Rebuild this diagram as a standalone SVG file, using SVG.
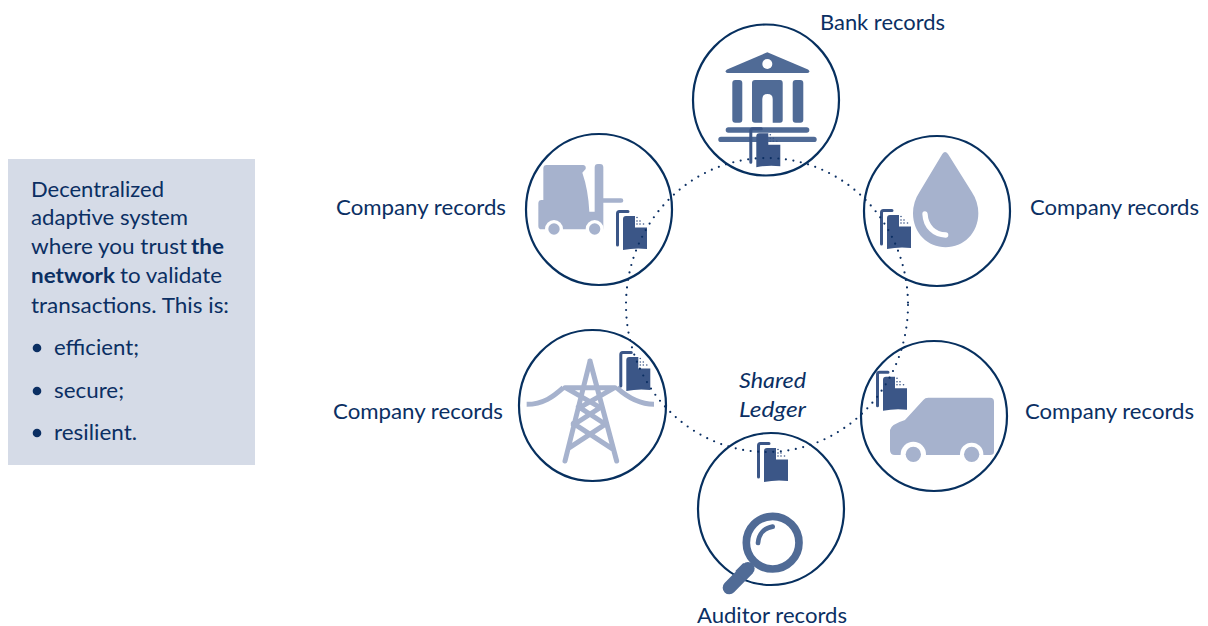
<svg xmlns="http://www.w3.org/2000/svg" width="1208" height="626" viewBox="0 0 1208 626">
<style>
text{font-family:"Lato","Carlito","Open Sans",sans-serif;fill:#0b2f63;font-size:20.5px}
.lbl{font-size:21px}
.ring{fill:#fff;stroke:#07305f;stroke-width:2.2}
.light{fill:#a6b2cd}
.mid{fill:#506b96}
.tw{fill:none;stroke:#a6b2cd;stroke-width:15;stroke-linecap:round}
.halo{fill:#fff}
</style>
<defs>
<g id="doc">
<path d="M1.500 35V3.500Q1.500 1.500 3.500 1.500H12" fill="none" stroke="#3b5687" stroke-width="3" stroke-linecap="round"/>
<path d="M7 9Q7 6 10 6H19V17.500H31V39Q19 37.500 7 40Z" fill="#3b5687"/>
<g fill="#3b5687"><circle cx="21" cy="7.500" r=".8"/><circle cx="21" cy="11" r=".8"/><circle cx="24" cy="11" r=".8"/><circle cx="21" cy="14" r=".8"/><circle cx="24" cy="14" r=".8"/><circle cx="27.500" cy="14" r=".8"/></g>
</g>
</defs>
<g id="info-box">
<rect x="8" y="159" width="247" height="306" fill="#d5dbe7"/>
<text x="31" y="197" textLength="133" lengthAdjust="spacingAndGlyphs">Decentralized</text>
<text x="31" y="225" textLength="157" lengthAdjust="spacingAndGlyphs">adaptive system</text>
<text x="31" y="254" textLength="156" lengthAdjust="spacingAndGlyphs">where you trust</text>
<text x="191" y="254" font-weight="700" textLength="33" lengthAdjust="spacingAndGlyphs">the</text>
<text x="31" y="283" font-weight="700" textLength="84" lengthAdjust="spacingAndGlyphs">network</text>
<text x="120" y="283" textLength="102" lengthAdjust="spacingAndGlyphs">to validate</text>
<text x="31" y="312.500" textLength="198" lengthAdjust="spacingAndGlyphs">transactions. This is:</text>
<circle cx="37" cy="348" r="4.300" fill="#0b2f63"/>
<text x="54" y="355" textLength="85" lengthAdjust="spacingAndGlyphs">efficient;</text>
<circle cx="37" cy="391" r="4.300" fill="#0b2f63"/>
<text x="54" y="398" textLength="70" lengthAdjust="spacingAndGlyphs">secure;</text>
<circle cx="37" cy="433" r="4.300" fill="#0b2f63"/>
<text x="54" y="440" textLength="83" lengthAdjust="spacingAndGlyphs">resilient.</text>
</g>
<g id="node-bank">
<ellipse class="ring" cx="766" cy="100" rx="73" ry="75.500"/>
<g class="mid">
<path d="M767.300 52.300L808 69.500Q811 71.800 807.500 73H727.500Q724 71.800 727 69.500Z"/>
<circle cx="767.300" cy="64" r="5" fill="#fff"/>
<rect x="732.300" y="80" width="10" height="42.700" rx="3"/>
<path d="M755 80H780Q782.700 80 782.700 83V120Q782.700 122.700 780 122.700H772.700V99Q772.700 94 767.500 94Q762.300 94 762.300 99V122.700H755Q752 122.700 752 120V83Q752 80 755 80Z"/>
<rect x="792.700" y="80" width="10.600" height="42.700" rx="3"/>
<rect x="725.700" y="127.300" width="83.600" height="5.400" rx="2.700"/>
<rect x="718.300" y="136.700" width="98.400" height="5.400" rx="2.700"/>
</g>
<use href="#doc" x="749.300" y="127.300"/>
<text class="lbl" x="820" y="30" textLength="125" lengthAdjust="spacingAndGlyphs">Bank records</text>
</g>
<g id="node-forklift">
<ellipse class="ring" cx="599" cy="209.500" rx="73" ry="75.500"/>
<g transform="translate(520 130) scale(.33333)">
<path class="light" d="M70 115Q70 105 80 105H190Q199 107 197 117L187 128Q205 180 208 245H224V112Q224 102 234 102H240Q250 102 250 112V205H303Q310 205 310 212Q310 218 303 218H250V298H65Q55 298 55 288V220Q55 210 65 210H70Z"/>
<circle class="halo" cx="102" cy="297" r="27"/><circle class="halo" cx="224" cy="297" r="27"/>
<circle class="light" cx="102" cy="297" r="17"/><circle class="light" cx="224" cy="297" r="17"/>
</g>
<use href="#doc" x="616" y="210"/>
<text class="lbl" x="336" y="215" textLength="170" lengthAdjust="spacingAndGlyphs">Company records</text>
</g>
<g id="node-water">
<ellipse class="ring" cx="937" cy="211" rx="73" ry="75"/>
<g transform="translate(855 130) scale(.33333)">
<path class="light" d="M262 72Q270 60 279 72L350 185Q370 215 370 250C370 310 325 352 272 352C219 352 174 310 174 250Q174 215 194 185Z"/>
<path d="M210 252C212 290 238 314 272 315" fill="none" stroke="#fff" stroke-width="16" stroke-linecap="round"/>
</g>
<use href="#doc" x="880" y="209"/>
<text class="lbl" x="1030" y="215" textLength="169" lengthAdjust="spacingAndGlyphs">Company records</text>
</g>
<g id="node-power">
<ellipse class="ring" cx="592.500" cy="405.500" rx="73.500" ry="75.500"/>
<g transform="translate(510 325) scale(.33333)">
<path class="tw" d="M240 108L165 408M240 108L320 408M165 188H315M170 190L275 250M310 190L205 250M205 245L290 300M275 245L190 300M190 295L305 370M290 295L175 370"/>
<path d="M50 238C100 238 130 215 160 188M320 188C350 215 385 238 432 238" fill="none" stroke="#a6b2cd" stroke-width="15"/>
</g>
<use href="#doc" x="619.300" y="351"/>
<text class="lbl" x="333" y="419" textLength="170" lengthAdjust="spacingAndGlyphs">Company records</text>
</g>
<g id="node-van">
<ellipse class="ring" cx="934" cy="416" rx="73" ry="75"/>
<g transform="translate(855 335) scale(.33333)">
<path class="light" d="M105 285Q108 268 150 255L205 195Q210 188 220 188H405Q417 188 417 200V350Q417 360 405 360H120Q105 360 105 345Z"/>
<circle class="halo" cx="175" cy="358" r="38"/><circle class="halo" cx="350" cy="358" r="35"/>
<circle class="light" cx="175" cy="358" r="23"/><circle class="light" cx="350" cy="358" r="23"/>
</g>
<use href="#doc" x="876" y="370.700"/>
<text class="lbl" x="1025" y="419" textLength="169" lengthAdjust="spacingAndGlyphs">Company records</text>
</g>
<g id="node-auditor">
<ellipse class="ring" cx="771" cy="509" rx="73" ry="76"/>
<g transform="translate(690 430) scale(.33333)">
<circle cx="248" cy="338" r="79" fill="#fff" stroke="#506b96" stroke-width="23"/>
<path d="M204 339C206 312 222 294 248 290" fill="none" stroke="#506b96" stroke-width="14" stroke-linecap="round"/>
<path d="M174 416L118 473" fill="none" stroke="#506b96" stroke-width="40" stroke-linecap="round"/>
<path d="M160 399L189 428L165 452L136 423Z" fill="#506b96"/>
</g>
<use href="#doc" x="757" y="442"/>
<text class="lbl" x="697" y="623" textLength="150" lengthAdjust="spacingAndGlyphs">Auditor records</text>
</g>
<g id="connectors">
<ellipse cx="767" cy="305" rx="141" ry="147" fill="none" stroke="#0b2f63" stroke-width="2.200" stroke-linecap="round" stroke-dasharray="0 7.580"/>
</g>
<g id="shared-ledger">
<text x="739" y="388" font-style="italic" textLength="67" lengthAdjust="spacingAndGlyphs">Shared</text>
<text x="739" y="417" font-style="italic" textLength="67" lengthAdjust="spacingAndGlyphs">Ledger</text>
</g>
</svg>
